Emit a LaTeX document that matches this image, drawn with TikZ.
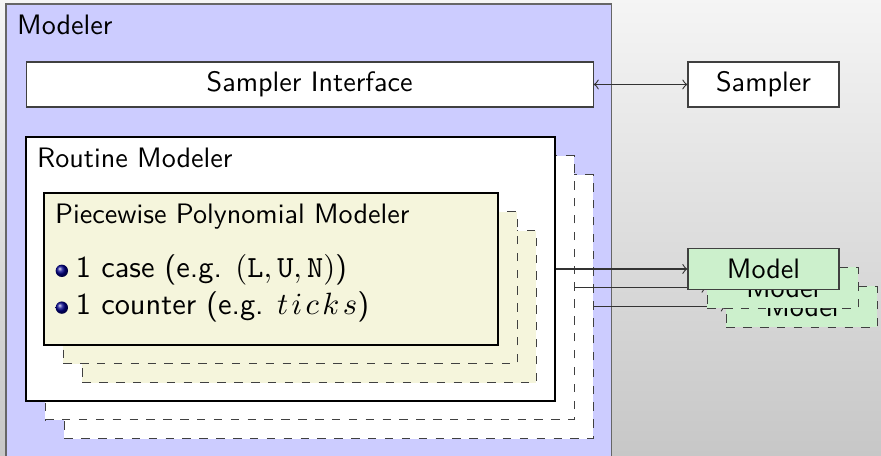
\documentclass[tikz,border=0pt]{standalone}
\usetikzlibrary{positioning}
\definecolor{modelerblue}{HTML}{CCCCFF}
\definecolor{piecefill}{HTML}{F5F5DC}
\definecolor{modelgreen}{HTML}{CCF0CC}
\tikzset{
  >=to,
}
\tikzstyle{every node}=[font=\sffamily]
\tikzstyle{box}=[draw=black!75,rectangle,inner sep=0pt]
\tikzstyle{copybox}=[box,dashed]
\tikzstyle{title}=[anchor=north west,inner sep=4pt]
\tikzstyle{entry}=[anchor=base west,inner sep=0pt,font=\sffamily\fontsize{10.8}{13}\selectfont]
\tikzstyle{bullet}=[circle,shade,ball color=blue!55!black,minimum size=4.4pt,inner sep=0pt]
\tikzstyle{link}=[black!80,->]

\begin{document}
\begin{tikzpicture}
    \shade[top color=black!4,bottom color=black!22] (0,0) rectangle (11.0125,5.7);
    \clip (0,0) rectangle (11.0125,5.7);
    % outer modeler
    \node[box,draw=black!60,fill=modelerblue,minimum width=7.57cm,minimum height=5.95cm] (modeler) at (3.86,2.675) {};
    \node[title] (modelertitle) at (modeler.north west) {Modeler};
    \node[box,fill=white,minimum width=7.0875cm,minimum height=0.5625cm] (interface) at (3.87,4.644) {Sampler Interface};
    \node[box,fill=white,minimum width=1.8875cm,minimum height=0.5625cm] (sampler) at (9.544,4.644) {Sampler};
    \draw[link,<->] (interface) -- (sampler);
    % back layer
    \node[copybox,fill=white,minimum width=6.6125cm,minimum height=3.3cm] (routinec) at (4.111,1.8675) {};
    \node[copybox,fill=modelgreen,minimum width=1.8875cm,minimum height=0.5125cm] (modelc) at (10.024,1.8675) {Model};
    \draw[link] (routinec) -- (modelc);
    % middle layer
    \node[copybox,fill=white,minimum width=6.6125cm,minimum height=3.3cm] (routineb) at (3.871,2.1025) {};
    \node[copybox,fill=modelgreen,minimum width=1.8875cm,minimum height=0.5125cm] (modelb) at (9.784,2.1025) {Model};
    \draw[link] (routineb) -- (modelb);
    % front layer
    \node[box,draw=black,fill=white,minimum width=6.6125cm,minimum height=3.3cm] (routine) at (3.631,2.3375) {};
    \node[title] (routinetitle) at (routine.north west) {Routine Modeler};
    \node[copybox,fill=piecefill,minimum width=5.675cm,minimum height=1.9cm] (piecec) at (3.8675,1.8675) {};
    \node[copybox,fill=piecefill,minimum width=5.675cm,minimum height=1.9cm] (pieceb) at (3.6275,2.1025) {};
    \node[box,draw=black,fill=piecefill,minimum width=5.675cm,minimum height=1.9cm] (piece) at (3.3875,2.3375) {};
    \node[title] (piecetitle) at (piece.north west) {Piecewise Polynomial Modeler};
    \node[entry] (case) at ([shift={(0.4,-1.06)}]piece.north west) {1 case (e.g. $(\mathtt{L},\mathtt{U},\mathtt{N})$)};
    \node[entry] (counter) at ([shift={(0,-0.46)}]case.base west) {1 counter (e.g. $t\mkern2mu i\mkern2mu c\mkern2mu k\mkern2mu s$)};
    \node[bullet] (casedot) at ([shift={(-0.17,0.08)}]case.base west) {};
    \node[bullet] (counterdot) at ([shift={(-0.17,0.08)}]counter.base west) {};
    \node[box,fill=modelgreen,minimum width=1.8875cm,minimum height=0.5125cm] (model) at (9.544,2.3375) {Model};
    \draw[link] (routine) -- (model);
\end{tikzpicture}
\end{document}
